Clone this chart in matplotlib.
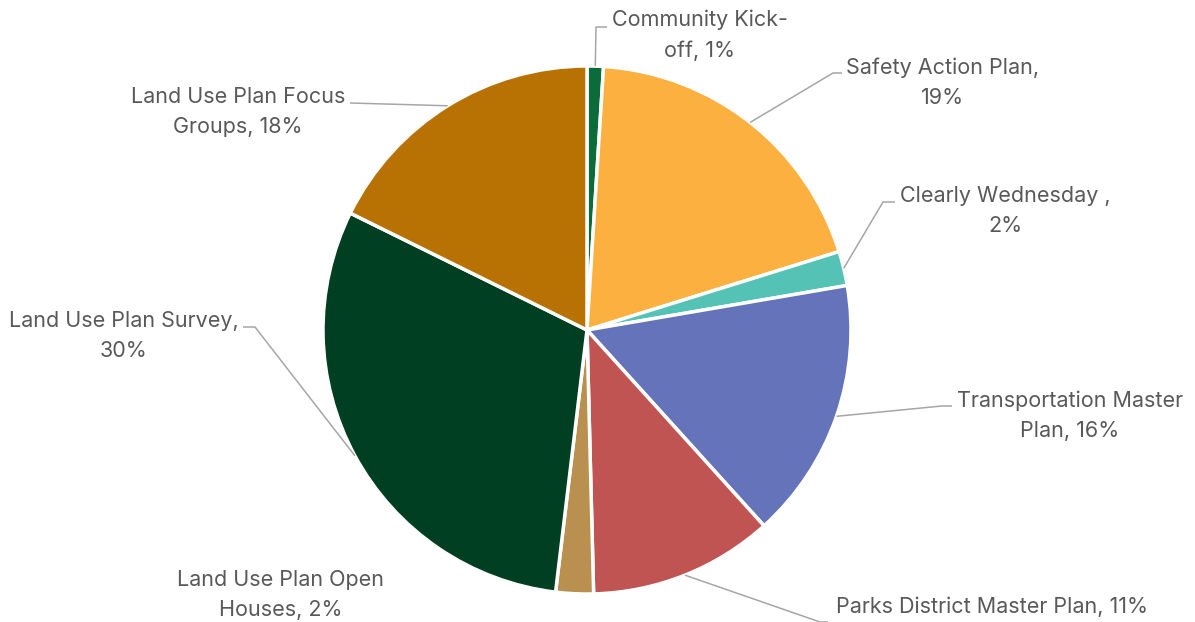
import numpy as np
import matplotlib
matplotlib.use("Agg")
import matplotlib.pyplot as plt

# share of engagement by activity (percent)
activities = [
    "Community Kick-\noff", "Safety Action Plan,\n", "Clearly Wednesday ,\n",
    "Transportation Master\nPlan", "Parks District Master Plan", "Land Use Plan Open\nHouses",
    "Land Use Plan Survey,\n", "Land Use Plan Focus\nGroups",
]
shares = [1.0, 19.2, 2.1, 16.0, 11.3, 2.3, 30.4, 17.7]
colors = ["#0B6B3A", "#FBB040", "#54C3B5", "#6574BA", "#BF5452", "#BA9050", "#003F22", "#B87103"]

W, H = 1195, 622
CX, CY, R = 587, 330, 264

# label centre and leader elbow/end, in pixel coords from the top-left
label_pos = [(700, 35), (943, 83), (1005, 211), (1070, 416), (992, 607), (281, 595), (124, 336), (238, 112)]
leaders = [
    [(596, 27), (607, 27)],
    [(833, 73), (842, 73)],
    [(883, 202), (895, 202)],
    [(942, 406), (952, 406)],
    [(820, 622), (828, 622)],
    None,
    [(255, 327), (243, 327)],
    [(350, 103)],
]

fig = plt.figure(figsize=(W / 100, H / 100), dpi=100)
ax = fig.add_axes([0, 0, 1, 1])
wedges, _ = ax.pie(shares, colors=colors, startangle=90, counterclock=False,
                   center=(CX, H - CY), radius=R,
                   wedgeprops=dict(edgecolor="white", linewidth=2.5))
ax.set_xlim(0, W)
ax.set_ylim(0, H)
ax.set_aspect("equal")
ax.axis("off")

total = sum(shares)
for w, name, val, (tx, ty), lead in zip(wedges, activities, shares, label_pos, leaders):
    pct = "%d%%" % round(val / total * 100)
    if name.endswith("\n"):
        text = name + pct
    else:
        text = name + ", " + pct
    ax.text(tx, H - ty, text, ha="center", va="center", fontsize=15.5,
            family="Inter", color="#595959", linespacing=1.62)
    if lead is None:
        continue
    # leader starts at the middle of the wedge's outer edge
    ang = np.deg2rad((w.theta1 + w.theta2) / 2)
    ax_, ay_ = CX + R * np.cos(ang), (H - CY) + R * np.sin(ang)
    xs = [ax_] + [p[0] for p in lead]
    ys = [ay_] + [H - p[1] for p in lead]
    ax.plot(xs, ys, color="#A6A6A6", lw=1.1, solid_capstyle="butt")

fig.savefig("out.png", dpi=100)
